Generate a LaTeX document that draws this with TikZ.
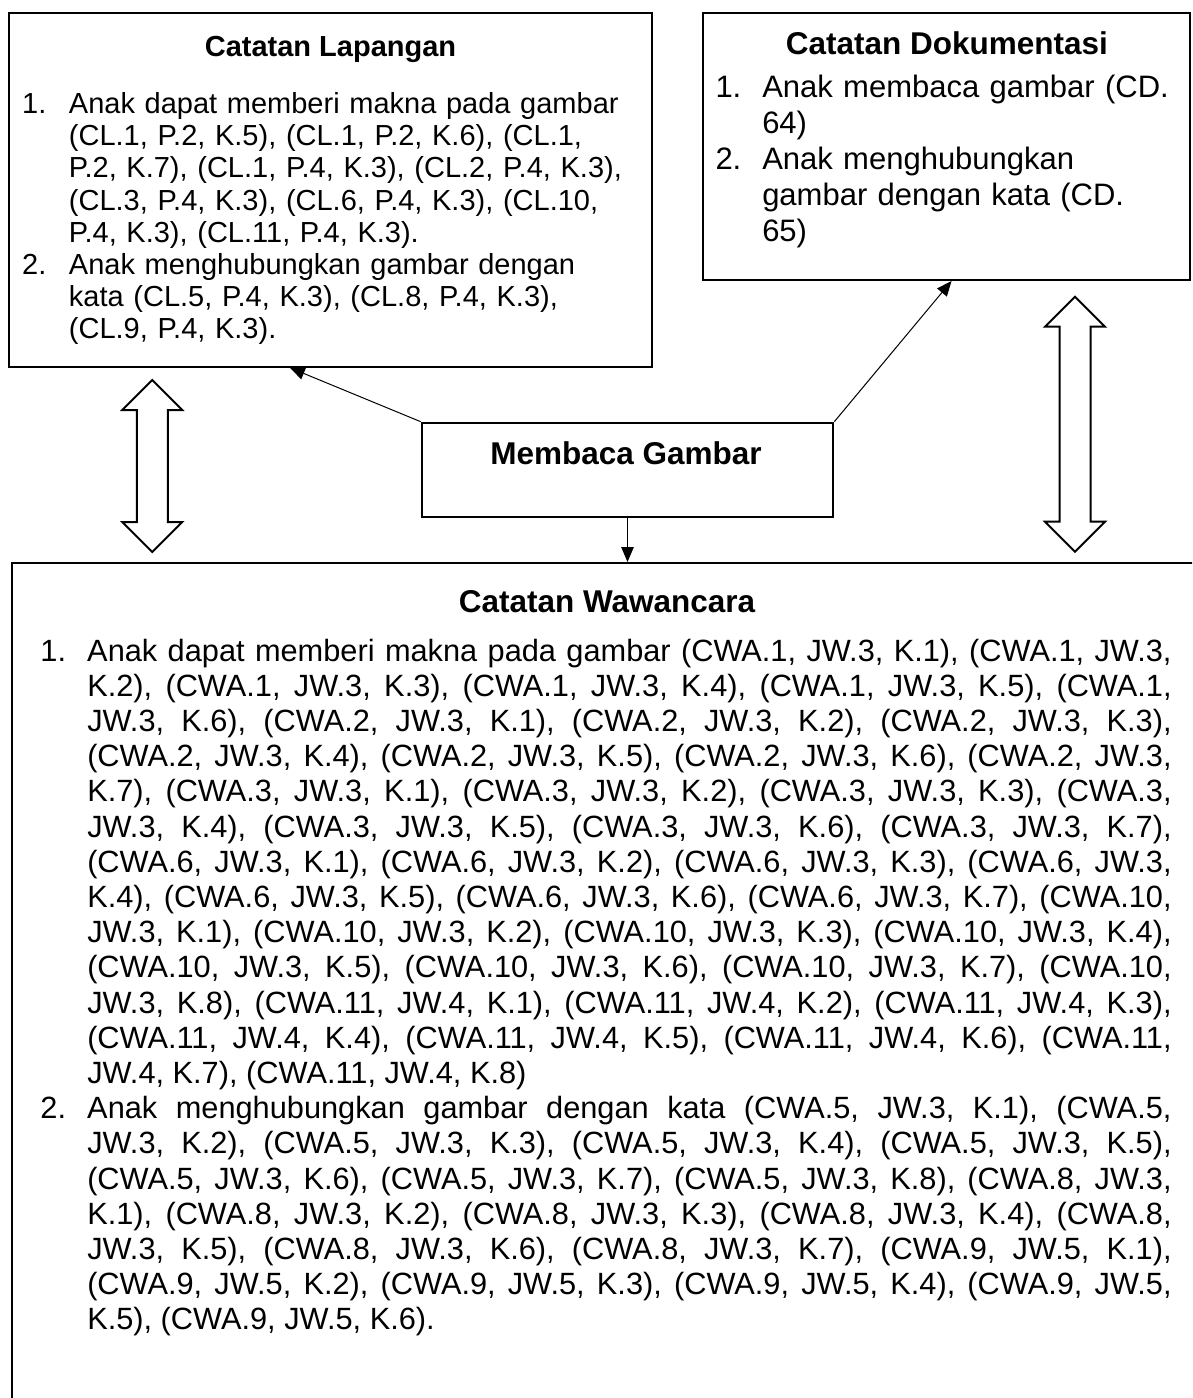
\documentclass[tikz,border=0pt]{standalone}
\usepackage{fontspec}
\setmainfont{Liberation Sans}
\usepackage{tikz}
\usetikzlibrary{shapes.arrows, arrows.meta, fit, calc}

% numbered entry with hanging indent
\newcommand{\noteItem}[1]{\hangindent=18.7pt\hangafter=1\noindent\makebox[18.7pt][l]{#1}}

\begin{document}
\frenchspacing
\hyphenpenalty=10000
\begin{tikzpicture}[
        x=0.4pt, y=-0.4pt,
        box/.style={rectangle, draw=black, line width=0.8pt, inner sep=0pt},
        heading/.style={inner sep=0pt, anchor=base, font=\fontsize{12.6}{14}\selectfont\bfseries},
        smallheading/.style={heading, font=\fontsize{11.6}{13}\selectfont\bfseries},
        bodytext/.style={inner sep=0pt, anchor=base west, align=left},
        line/.style={draw=black, line width=0.4pt, -{Triangle[length=6pt, width=5pt]}},
        bothway/.style={double arrow, draw=black, line width=0.8pt, shape border rotate=90, inner sep=5.8pt, minimum width=23.2pt, double arrow head extend=5.8pt}
    ]
    \useasboundingbox (0,0) rectangle (1192,1398);
    \clip (0,0) rectangle (1192,1398);

    % Boxes
    \node (lapangan) [box, fit={(9.3,13.3) (651.5,366.7)}] {};
    \node (dokumentasi) [box, fit={(703.3,13.3) (1190,280)}] {};
    \node (membaca) [box, fit={(421.7,422.7) (833.3,517.3)}] {};
    \node (wawancara) [box, fit={(11.7,563) (1230,1430)}] {};

    % Texts
    \node (lapanganTitle) [smallheading] at (330.5,57) {Catatan Lapangan};
    \node (lapanganText) [bodytext, text width=245pt, font=\fontsize{11.6}{12.8}\selectfont] at (21.7,114) {%
        \noteItem{1.}Anak dapat memberi makna pada gambar\newline
        (CL.1, P.2, K.5), (CL.1, P.2, K.6), (CL.1,\newline
        P.2, K.7), (CL.1, P.4, K.3), (CL.2, P.4, K.3),\newline
        (CL.3, P.4, K.3), (CL.6, P.4, K.3), (CL.10,\newline
        P.4, K.3), (CL.11, P.4, K.3).\par
        \noteItem{2.}Anak menghubungkan gambar dengan\newline
        kata (CL.5, P.4, K.3), (CL.8, P.4, K.3),\newline
        (CL.9, P.4, K.3).\par};

    \node (dokumentasiTitle) [heading] at (947,55) {Catatan Dokumentasi};
    \node (dokumentasiText) [bodytext, text width=184pt, font=\fontsize{12.4}{14.4}\selectfont] at (715,98) {%
        \noteItem{1.}Anak membaca gambar (CD.\newline
        64)\par
        \noteItem{2.}Anak menghubungkan\newline
        gambar dengan kata (CD.\newline
        65)\par};

    \node (membacaTitle) [heading] at (626,464) {Membaca Gambar};

    \node (wawancaraTitle) [heading] at (607,612) {Catatan Wawancara};
    \node (wawancaraText) [bodytext, align=justify, text width=452.4pt, font=\fontsize{12.3}{14.08}\selectfont] at (40,661) {%
        \noteItem{1.}Anak dapat memberi makna pada gambar (CWA.1, JW.3, K.1), (CWA.1, JW.3,\linebreak
        K.2), (CWA.1, JW.3, K.3), (CWA.1, JW.3, K.4), (CWA.1, JW.3, K.5), (CWA.1,\linebreak
        JW.3, K.6), (CWA.2, JW.3, K.1), (CWA.2, JW.3, K.2), (CWA.2, JW.3, K.3),\linebreak
        (CWA.2, JW.3, K.4), (CWA.2, JW.3, K.5), (CWA.2, JW.3, K.6), (CWA.2, JW.3,\linebreak
        K.7), (CWA.3, JW.3, K.1), (CWA.3, JW.3, K.2), (CWA.3, JW.3, K.3), (CWA.3,\linebreak
        JW.3, K.4), (CWA.3, JW.3, K.5), (CWA.3, JW.3, K.6), (CWA.3, JW.3, K.7),\linebreak
        (CWA.6, JW.3, K.1), (CWA.6, JW.3, K.2), (CWA.6, JW.3, K.3), (CWA.6, JW.3,\linebreak
        K.4), (CWA.6, JW.3, K.5), (CWA.6, JW.3, K.6), (CWA.6, JW.3, K.7), (CWA.10,\linebreak
        JW.3, K.1), (CWA.10, JW.3, K.2), (CWA.10, JW.3, K.3), (CWA.10, JW.3, K.4),\linebreak
        (CWA.10, JW.3, K.5), (CWA.10, JW.3, K.6), (CWA.10, JW.3, K.7), (CWA.10,\linebreak
        JW.3, K.8), (CWA.11, JW.4, K.1), (CWA.11, JW.4, K.2), (CWA.11, JW.4, K.3),\linebreak
        (CWA.11, JW.4, K.4), (CWA.11, JW.4, K.5), (CWA.11, JW.4, K.6), (CWA.11,\linebreak
        JW.4, K.7), (CWA.11, JW.4, K.8)\par
        \noteItem{2.}Anak menghubungkan gambar dengan kata (CWA.5, JW.3, K.1), (CWA.5,\linebreak
        JW.3, K.2), (CWA.5, JW.3, K.3), (CWA.5, JW.3, K.4), (CWA.5, JW.3, K.5),\linebreak
        (CWA.5, JW.3, K.6), (CWA.5, JW.3, K.7), (CWA.5, JW.3, K.8), (CWA.8, JW.3,\linebreak
        K.1), (CWA.8, JW.3, K.2), (CWA.8, JW.3, K.3), (CWA.8, JW.3, K.4), (CWA.8,\linebreak
        JW.3, K.5), (CWA.8, JW.3, K.6), (CWA.8, JW.3, K.7), (CWA.9, JW.5, K.1),\linebreak
        (CWA.9, JW.5, K.2), (CWA.9, JW.5, K.3), (CWA.9, JW.5, K.4), (CWA.9, JW.5,\linebreak
        K.5), (CWA.9, JW.5, K.6).\par};

    % Double arrows
    \node (linkLeft) [bothway, minimum height=68.8pt] at (152.3,466) {};
    \node (linkRight) [bothway, minimum height=102pt] at (1075,424.2) {};

    % Connectors
    \path [line] (membaca.north west) -- ($(lapangan.south west)!0.437!(lapangan.south east)$);
    \path [line] (membaca.north east) -- ($(dokumentasi.south west)!0.51!(dokumentasi.south east)$);
    \path [line] (membaca.south) -- (membaca.south |- wawancara.north);
\end{tikzpicture}
\end{document}
